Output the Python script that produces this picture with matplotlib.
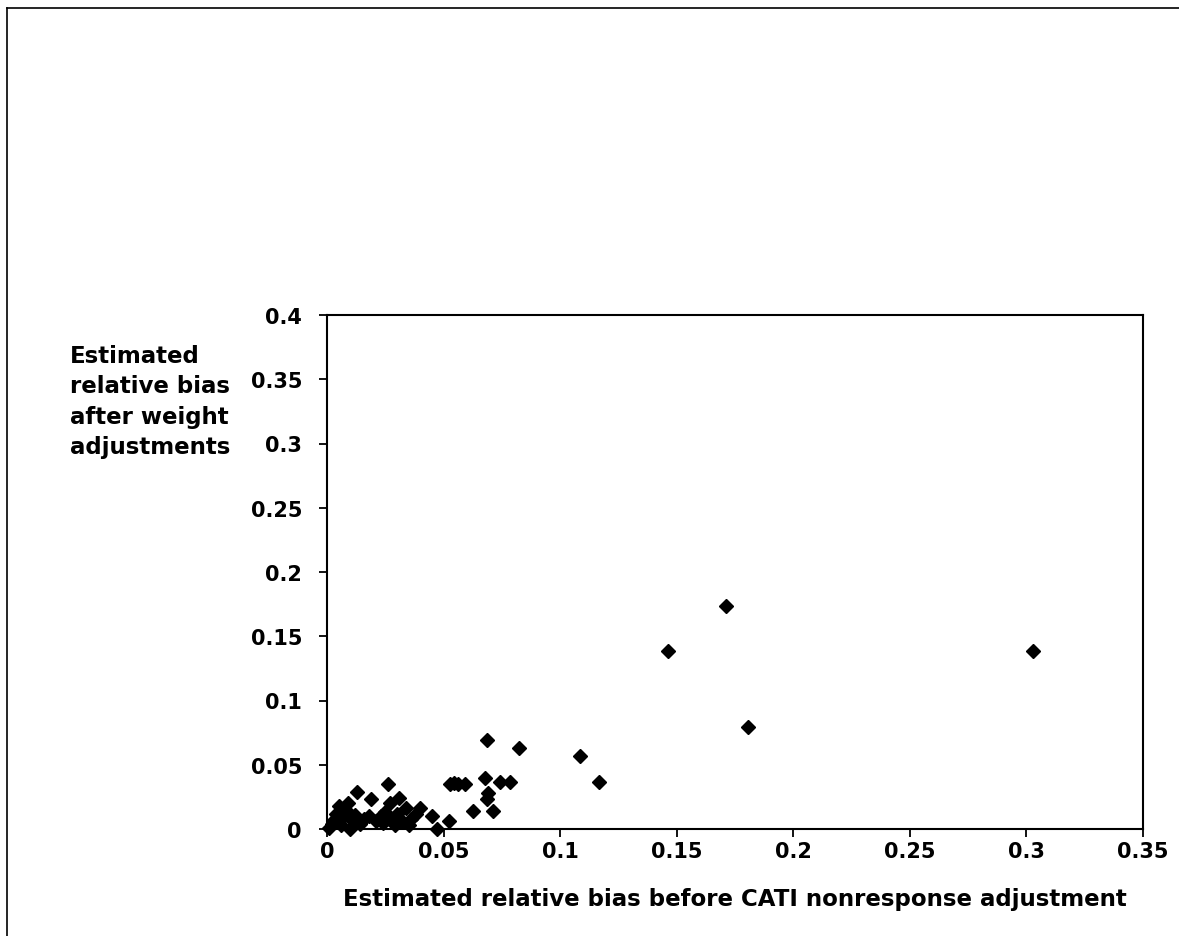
"""
plot.py
relative bias before/after weight adjustments
"""

import matplotlib
matplotlib.use("Agg")
import matplotlib.pyplot as plt
from matplotlib.lines import Line2D

plt.rcParams['font.family'] = ['DejaVu Sans']
plt.rcParams['font.weight'] = 'bold'

# bias before CATI nonresponse adjustment
bias_before = [
    0.001, 0.002, 0.003, 0.004, 0.005, 0.006, 0.007, 0.008, 0.009, 0.010,
    0.011, 0.012, 0.013, 0.014, 0.016, 0.018, 0.019, 0.021, 0.023, 0.024,
    0.025, 0.026, 0.027, 0.028, 0.029, 0.030, 0.031, 0.032, 0.034, 0.035,
    0.036, 0.038, 0.040, 0.045, 0.047,
    0.0525, 0.0528, 0.0545, 0.0563, 0.0592, 0.0625, 0.0678, 0.0685, 0.0685,
    0.0692, 0.0711, 0.0742, 0.0785, 0.0824, 0.1085, 0.1168,
    0.1461, 0.1710, 0.1806, 0.3030,
]
# bias after weight adjustments
bias_after = [
    0.001, 0.004, 0.007, 0.012, 0.018, 0.003, 0.009, 0.015, 0.020, 0.000,
    0.006, 0.011, 0.029, 0.004, 0.008, 0.010, 0.023, 0.006, 0.010, 0.005,
    0.013, 0.035, 0.020, 0.008, 0.003, 0.012, 0.024, 0.006, 0.016, 0.003,
    0.008, 0.012, 0.016, 0.010, 0.000,
    0.0063, 0.035, 0.0358, 0.035, 0.035, 0.014, 0.0394, 0.0696, 0.0236,
    0.0277, 0.014, 0.0364, 0.0364, 0.0632, 0.0569, 0.0364,
    0.1382, 0.1733, 0.0790, 0.1386,
]

x_ticks = [0, 0.05, 0.1, 0.15, 0.2, 0.25, 0.3, 0.35]
y_ticks = [0, 0.05, 0.1, 0.15, 0.2, 0.25, 0.3, 0.35, 0.4]

fig = plt.figure(figsize=(11.79, 9.37), dpi=100)
ax = fig.add_axes([327 / 1179, 1 - 830 / 937, 816 / 1179, 514 / 937])

ax.plot(bias_before, bias_after, linestyle='none', marker='D',
        markersize=7.5, color='black', clip_on=False)

ax.set_xlim(0, 0.35)
ax.set_ylim(0, 0.4)
ax.set_xticks(x_ticks)
ax.set_xticklabels([f"{t:g}" for t in x_ticks])
ax.set_yticks(y_ticks)
ax.set_yticklabels([f"{t:g}" for t in y_ticks])
ax.tick_params(direction='out', length=6, width=1.3, labelsize=15)
ax.tick_params(axis='x', pad=3)
ax.tick_params(axis='y', pad=12)

for s in ax.spines.values():
    s.set_linewidth(1.5)
    s.set_color('black')

fig.text(735 / 1179, 1 - 900 / 937,
         "Estimated relative bias before CATI nonresponse adjustment",
         ha='center', va='center', fontsize=16.5, fontweight='bold')
fig.text(70 / 1179, 1 - 402 / 937,
         "Estimated\nrelative bias\nafter weight\nadjustments",
         ha='left', va='center', fontsize=16.5, fontweight='bold',
         linespacing=1.4)

# outer frame of the original figure
fig.add_artist(Line2D([7 / 1179, 1.0], [1 - 9 / 937, 1 - 9 / 937],
                      color='black', linewidth=1.2))
fig.add_artist(Line2D([7 / 1179, 7 / 1179], [0.0, 1 - 9 / 937],
                      color='black', linewidth=1.2))

fig.savefig("out.png", dpi=100)
